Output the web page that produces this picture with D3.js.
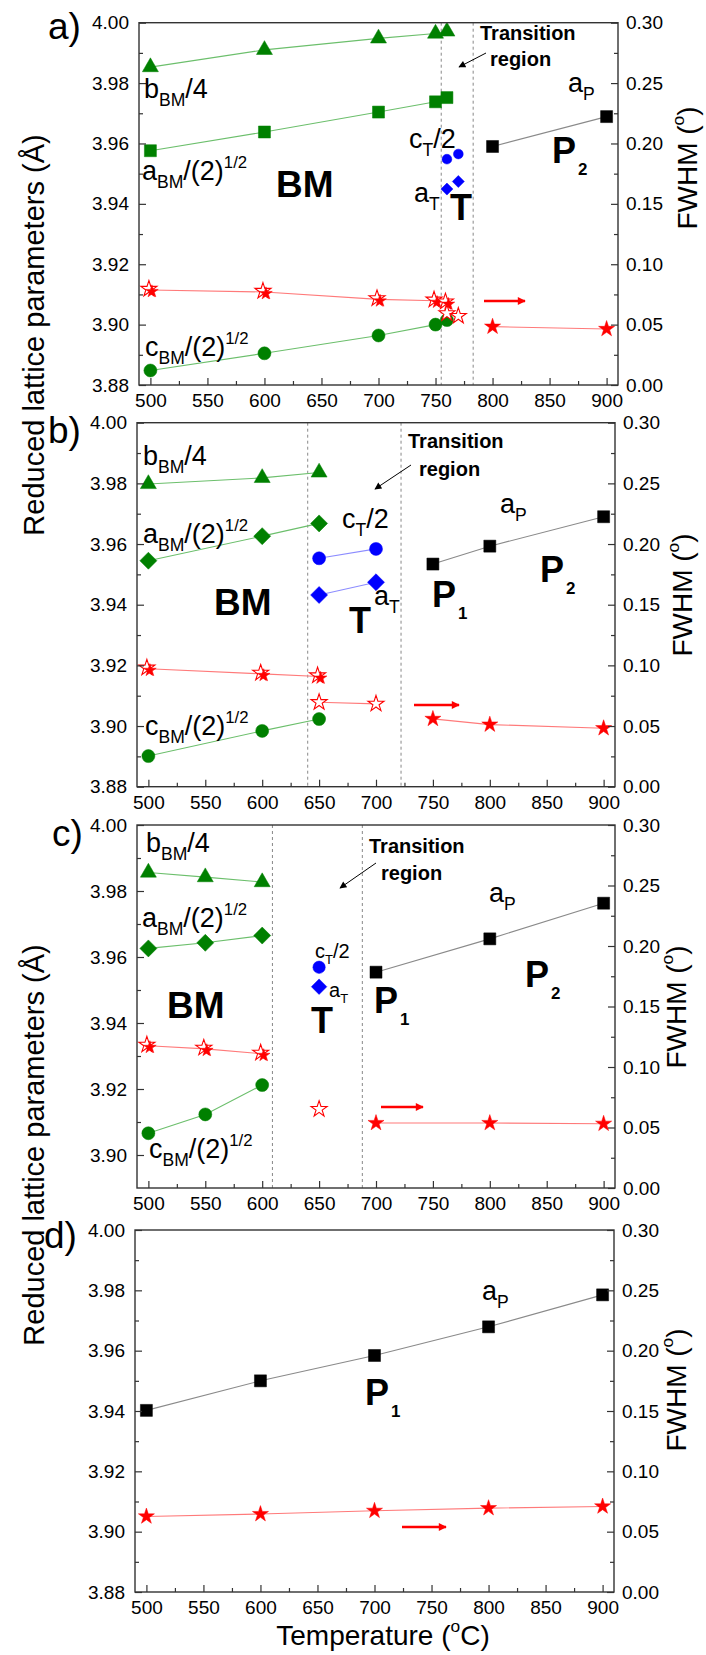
<!DOCTYPE html>
<html>
<head>
<meta charset="utf-8">
<script src="https://cdn.jsdelivr.net/npm/d3@7"></script>
<style>
  body { margin: 0; background: #fff; }
  svg text { font-family: "Liberation Sans", Arial, Helvetica, sans-serif; fill: #000; }
</style>
</head>
<body>
<svg id="fig" width="706" height="1655"></svg>
<script>
// ---------- tick values ----------
const tempTicksMajor = [500, 550, 600, 650, 700, 750, 800, 850, 900];
const tempTicksMinor = [525, 575, 625, 675, 725, 775, 825, 875];
const latticeTicksMajor = [3.88, 3.90, 3.92, 3.94, 3.96, 3.98, 4.00];
const latticeTicksMinor = [3.89, 3.91, 3.93, 3.95, 3.97, 3.99];
const fwhmTicksMajor = [0, 0.05, 0.10, 0.15, 0.20, 0.25, 0.30];
const fwhmTicksMinor = [0.025, 0.075, 0.125, 0.175, 0.225, 0.275];

// ---------- panel a data: [temperature (°C), value] ----------
const a_bBM4 = [[500, 3.9853], [600, 3.9910], [700, 3.9948], [750, 3.9964], [760, 3.9971]];
const a_aBM  = [[500, 3.9576], [600, 3.9638], [700, 3.9704], [750, 3.9738], [760, 3.9752]];
const a_cBM  = [[500, 3.8848], [600, 3.8905], [700, 3.8964], [750, 3.9000], [760, 3.9015]];
const a_cT2  = [[760, 3.9548], [770, 3.9565]];
const a_aT   = [[760, 3.9449], [770, 3.9474]];
const a_aP   = [[800, 3.9590], [900, 3.9689]];
const a_fwhmBM = [[500, 0.0787], [600, 0.0770], [700, 0.0709], [750, 0.0698], [760, 0.0682]];
const a_fwhmT  = [[760, 0.0593], [770, 0.0571]];
const a_fwhmP  = [[800, 0.0483], [900, 0.0464]];
const a_transition = [755, 783];

// ---------- panel b data ----------
const b_bBM4 = [[500, 3.9798], [600, 3.9818], [650, 3.9836]];
const b_aBM  = [[500, 3.9545], [600, 3.9626], [650, 3.9668]];
const b_cBM  = [[500, 3.8901], [600, 3.8984], [650, 3.9023]];
const b_cT2  = [[650, 3.9553], [700, 3.9584]];
const b_aT   = [[650, 3.9432], [700, 3.9474]];
const b_aP   = [[750, 3.9534], [800, 3.9593], [900, 3.9690]];
const b_fwhmBM = [[500, 0.0972], [600, 0.0930], [650, 0.0908]];
const b_fwhmT  = [[650, 0.0696], [700, 0.0683]];
const b_fwhmP  = [[750, 0.0559], [800, 0.0512], [900, 0.0482]];
const b_transition = [640, 722];

// ---------- panel c data ----------
const c_bBM4 = [[500, 3.9856], [550, 3.9842], [600, 3.9827]];
const c_aBM  = [[500, 3.9626], [550, 3.9643], [600, 3.9665]];
const c_cBM  = [[500, 3.9066], [550, 3.9123], [600, 3.9212]];
const c_cT2  = [[650, 3.9569]];
const c_aT   = [[650, 3.9510]];
const c_aP   = [[700, 3.9554], [800, 3.9655], [900, 3.9763]];
const c_fwhmBM = [[500, 0.1175], [550, 0.1150], [600, 0.1109]];
const c_fwhmT  = [[650, 0.0652]];
const c_fwhmP  = [[700, 0.0537], [800, 0.0537], [900, 0.0531]];
const c_transition = [609, 688];

// ---------- panel d data ----------
const d_aP     = [[500, 3.9402], [600, 3.9500], [700, 3.9584], [800, 3.9679], [900, 3.9785]];
const d_fwhmP  = [[500, 0.0626], [600, 0.0646], [700, 0.0673], [800, 0.0695], [900, 0.0709]];

// ---------- styling ----------
const GREEN = "#008000", GREEN_LINE = "#6cbf6c";
const BLUE = "#0000ff", BLUE_LINE = "#8c8cff";
const RED = "#ff0000", RED_LINE = "#ff7a7a";
const BLACK = "#000", GRAY_LINE = "#8a8a8a";
const AXIS = "#333";

const svg = d3.select("#fig");

// arrowheads
const defs = svg.append("defs");
defs.append("marker").attr("id", "redHead").attr("viewBox", "0 0 10 10")
  .attr("refX", 9).attr("refY", 5).attr("markerWidth", 4).attr("markerHeight", 3.2)
  .attr("markerUnits", "strokeWidth").attr("orient", "auto")
  .append("path").attr("d", "M0,0 L10,5 L0,10 z").attr("fill", RED);
defs.append("marker").attr("id", "blackHead").attr("viewBox", "0 0 10 10")
  .attr("refX", 9).attr("refY", 5).attr("markerWidth", 8).attr("markerHeight", 7)
  .attr("markerUnits", "strokeWidth").attr("orient", "auto")
  .append("path").attr("d", "M0,0 L10,5 L0,10 z").attr("fill", "#000");

// rich text with sub/superscripts
function rich(g, x, y, parts, size, opts = {}) {
  const t = g.append("text").attr("x", x).attr("y", y)
    .attr("font-size", size).attr("font-weight", opts.bold ? "bold" : "normal");
  if (opts.anchor) t.attr("text-anchor", opts.anchor);
  if (opts.transform) t.attr("transform", opts.transform);
  let cur = 0;
  parts.forEach(p => {
    let txt, off = 0, fs = size;
    if (typeof p === "string") { txt = p; }
    else if (p.sub !== undefined) { txt = p.sub; off = size * (opts.subShift || 0.3); fs = size * (opts.subScale || 0.65); }
    else { txt = p.sup; off = -size * 0.45; fs = size * 0.62; }
    t.append("tspan").attr("dy", off - cur).attr("font-size", fs)
      .attr("dx", p.dx || 0).text(txt);
    cur = off;
  });
  return t;
}

function starPath(size) { return d3.symbol(d3.symbolStar, size)(); }

function drawPanel(cfg) {
  const [x0, x1, y0, y1] = cfg.box;
  const g = svg.append("g");
  const x = d3.scaleLinear().domain([490, 910]).range([x0, x1]);
  const y = d3.scaleLinear().domain(cfg.yDom).range([y1, y0]);
  const y2 = d3.scaleLinear().domain([0, 0.30]).range([y1, y0]);

  // transition region boundaries
  (cfg.transition || []).forEach(t => {
    g.append("line").attr("x1", x(t)).attr("x2", x(t)).attr("y1", y0).attr("y2", y1)
      .attr("stroke", "#888").attr("stroke-width", 1).attr("stroke-dasharray", "3,3");
  });

  const line = d3.line().x(d => x(d[0])).y(d => y(d[1]));
  const line2 = d3.line().x(d => x(d[0])).y(d => y2(d[1]));

  function series(data, color, lineColor, sym, size, opts = {}) {
    const sc = opts.right ? y2 : y;
    if (lineColor && data.length > 1) {
      g.append("path").attr("d", (opts.right ? line2 : line)(data))
        .attr("fill", "none").attr("stroke", lineColor).attr("stroke-width", 1.1);
    }
    g.selectAll(null).data(data).enter().append("path")
      .attr("d", d3.symbol(sym, size)())
      .attr("transform", d => `translate(${x(d[0])},${sc(d[1])})${opts.rot ? " rotate(45)" : ""}`)
      .attr("fill", opts.open ? "#fff" : color)
      .attr("stroke", color).attr("stroke-width", opts.open ? 1.1 : 0.5);
  }
  // overlapping open + filled stars (BM phase)
  function doubleStars(data, lineColor) {
    g.append("path").attr("d", line2(data)).attr("fill", "none")
      .attr("stroke", lineColor).attr("stroke-width", 1.1);
    const gs = g.selectAll(null).data(data).enter().append("g")
      .attr("transform", d => `translate(${x(d[0])},${y2(d[1])})`);
    gs.append("path").attr("d", starPath(80)).attr("transform", "translate(-1.5,-1)")
      .attr("fill", "#fff").attr("stroke", RED).attr("stroke-width", 1.1);
    gs.append("path").attr("d", starPath(50)).attr("transform", "translate(1.5,1.5)")
      .attr("fill", RED).attr("stroke", RED).attr("stroke-width", 0.5);
  }

  cfg.draw({ series, doubleStars, g, x, y, y2 });

  // frame + axes
  g.append("rect").attr("x", x0).attr("y", y0).attr("width", x1 - x0).attr("height", y1 - y0)
    .attr("fill", "none").attr("stroke", AXIS).attr("stroke-width", 1.4);

  const styleAxis = sel => {
    sel.select(".domain").remove();
    sel.selectAll("line").attr("stroke", AXIS).attr("stroke-width", 1.2);
    sel.selectAll("text").attr("font-size", 19).attr("font-family", null).attr("fill", "#000");
  };
  g.append("g").attr("transform", `translate(0,${y1})`)
    .call(d3.axisBottom(x).tickValues(tempTicksMajor).tickSize(-7).tickPadding(9).tickFormat(d3.format("d")))
    .call(styleAxis);
  g.append("g").attr("transform", `translate(0,${y1})`)
    .call(d3.axisBottom(x).tickValues(tempTicksMinor).tickSize(-4).tickFormat(""))
    .call(styleAxis);

  const lMajor = latticeTicksMajor.filter(v => v >= cfg.yDom[0] - 1e-9);
  const lMinor = latticeTicksMinor.filter(v => v > cfg.yDom[0] + 1e-9);
  g.append("g").attr("transform", `translate(${x0},0)`)
    .call(d3.axisLeft(y).tickValues(lMajor).tickSize(-7).tickPadding(10).tickFormat(d3.format(".2f")))
    .call(styleAxis);
  g.append("g").attr("transform", `translate(${x0},0)`)
    .call(d3.axisLeft(y).tickValues(lMinor).tickSize(-4).tickFormat(""))
    .call(styleAxis);

  g.append("g").attr("transform", `translate(${x1},0)`)
    .call(d3.axisRight(y2).tickValues(fwhmTicksMajor).tickSize(-7).tickPadding(8).tickFormat(d3.format(".2f")))
    .call(styleAxis);
  g.append("g").attr("transform", `translate(${x1},0)`)
    .call(d3.axisRight(y2).tickValues(fwhmTicksMinor).tickSize(-4).tickFormat(""))
    .call(styleAxis);

  // panel letter
  g.append("text").attr("x", cfg.letterPos[0]).attr("y", cfg.letterPos[1])
    .attr("font-size", 37).text(cfg.letter);

  // FWHM title
  rich(g, 0, 0, ["FWHM (", { sup: "o" }, ")"], 28,
    { anchor: "middle", transform: `translate(${cfg.fwhmPos[0]},${cfg.fwhmPos[1]}) rotate(-90)` });

  // annotations
  (cfg.labels || []).forEach(l => rich(g, l.x, l.y, l.parts, l.size, l));
  (cfg.redArrows || []).forEach(a => {
    g.append("line").attr("x1", a[0]).attr("x2", a[1]).attr("y1", a[2]).attr("y2", a[2])
      .attr("stroke", RED).attr("stroke-width", 2.5).attr("marker-end", "url(#redHead)");
  });
  if (cfg.transitionText) {
    const t = cfg.transitionText;
    g.append("text").attr("x", t.tx).attr("y", t.ty).attr("font-size", 20).attr("font-weight", "bold").text("Transition");
    g.append("text").attr("x", t.rx).attr("y", t.ry).attr("font-size", 20).attr("font-weight", "bold").text("region");
    g.append("line").attr("x1", t.arrow[0]).attr("y1", t.arrow[1]).attr("x2", t.arrow[2]).attr("y2", t.arrow[3])
      .attr("stroke", "#000").attr("stroke-width", 1).attr("marker-end", "url(#blackHead)");
  }
}

const tri = d3.symbolTriangle, sq = d3.symbolSquare, circ = d3.symbolCircle, star = d3.symbolStar;
const lbl = (x, y, parts, size, extra = {}) => Object.assign({ x, y, parts, size }, extra);
const aBMparts = ["a", { sub: "BM" }, "/(2)", { sup: "1/2" }];
const cBMparts = ["c", { sub: "BM" }, "/(2)", { sup: "1/2" }];
const bBMparts = ["b", { sub: "BM" }, "/4"];

// ---------- panel a ----------
drawPanel({
  letter: "a)", letterPos: [48, 39], box: [139, 618, 22.7, 385], yDom: [3.88, 4.00],
  transition: a_transition, fwhmPos: [697, 168],
  draw: ({ series, doubleStars }) => {
    series(a_bBM4, GREEN, GREEN_LINE, tri, 111);
    series(a_aBM, GREEN, GREEN_LINE, sq, 144);
    series(a_cBM, GREEN, GREEN_LINE, circ, 133);
    series(a_cT2, BLUE, null, circ, 75);
    series(a_aT, BLUE, null, sq, 72, { rot: true });
    series(a_aP, BLACK, GRAY_LINE, sq, 144);
    doubleStars(a_fwhmBM, RED_LINE);
    series(a_fwhmT, RED, null, star, 80, { right: true, open: true });
    series(a_fwhmP, RED, RED_LINE, star, 80, { right: true });
  },
  labels: [
    lbl(144, 98, bBMparts, 27), lbl(142, 180, aBMparts, 27), lbl(145, 356, cBMparts, 27),
    lbl(276, 197, ["BM"], 37, { bold: true }),
    lbl(409, 148, ["c", { sub: "T" }, "/2"], 27), lbl(414, 202, ["a", { sub: "T" }], 27),
    lbl(450, 220, ["T"], 36, { bold: true }),
    lbl(568, 92, ["a", { sub: "P" }], 27),
    lbl(552, 163, ["P", { sub: "2", dx: 2 }], 36, { bold: true, subShift: 0.33, subScale: 0.47 })
  ],
  redArrows: [[484, 525, 301]],
  transitionText: { tx: 480, ty: 40, rx: 490, ry: 66, arrow: [486, 53, 459, 67] }
});

// ---------- panel b ----------
drawPanel({
  letter: "b)", letterPos: [48, 443], box: [137, 615, 422.7, 786.7], yDom: [3.88, 4.00],
  transition: b_transition, fwhmPos: [692, 595],
  draw: ({ series, doubleStars }) => {
    series(b_bBM4, GREEN, GREEN_LINE, tri, 111);
    series(b_aBM, GREEN, GREEN_LINE, sq, 144, { rot: true });
    series(b_cBM, GREEN, GREEN_LINE, circ, 133);
    series(b_cT2, BLUE, BLUE_LINE, circ, 133);
    series(b_aT, BLUE, BLUE_LINE, sq, 144, { rot: true });
    series(b_aP, BLACK, GRAY_LINE, sq, 144);
    doubleStars(b_fwhmBM, RED_LINE);
    series(b_fwhmT, RED, RED_LINE, star, 80, { right: true, open: true });
    series(b_fwhmP, RED, RED_LINE, star, 80, { right: true });
  },
  labels: [
    lbl(143, 465, bBMparts, 27), lbl(143, 543, aBMparts, 27), lbl(145, 735, cBMparts, 27),
    lbl(214, 615, ["BM"], 37, { bold: true }),
    lbl(342, 528, ["c", { sub: "T" }, "/2"], 27),
    lbl(349, 633, ["T"], 36, { bold: true }),
    lbl(374, 605, ["a", { sub: "T" }], 27),
    lbl(432, 607, ["P", { sub: "1", dx: 2 }], 36, { bold: true, subShift: 0.33, subScale: 0.47 }),
    lbl(500, 513, ["a", { sub: "P" }], 27),
    lbl(540, 582, ["P", { sub: "2", dx: 2 }], 36, { bold: true, subShift: 0.33, subScale: 0.47 })
  ],
  redArrows: [[414, 459, 705]],
  transitionText: { tx: 408, ty: 448, rx: 419, ry: 476, arrow: [411, 465, 375, 489] }
});

// ---------- panel c ----------
drawPanel({
  letter: "c)", letterPos: [52, 846], box: [137, 615, 825, 1188], yDom: [3.89, 4.00],
  transition: c_transition, fwhmPos: [686, 1007],
  draw: ({ series, doubleStars }) => {
    series(c_bBM4, GREEN, GREEN_LINE, tri, 111);
    series(c_aBM, GREEN, GREEN_LINE, sq, 144, { rot: true });
    series(c_cBM, GREEN, GREEN_LINE, circ, 133);
    series(c_cT2, BLUE, null, circ, 120);
    series(c_aT, BLUE, null, sq, 120, { rot: true });
    series(c_aP, BLACK, GRAY_LINE, sq, 144);
    doubleStars(c_fwhmBM, RED_LINE);
    series(c_fwhmT, RED, null, star, 80, { right: true, open: true });
    series(c_fwhmP, RED, RED_LINE, star, 80, { right: true });
  },
  labels: [
    lbl(146, 852, bBMparts, 27), lbl(142, 927, aBMparts, 27), lbl(149, 1158, cBMparts, 27),
    lbl(167, 1018, ["BM"], 37, { bold: true }),
    lbl(315, 958, ["c", { sub: "T" }, "/2"], 20), lbl(329, 997, ["a", { sub: "T" }], 20),
    lbl(311, 1033, ["T"], 36, { bold: true }),
    lbl(374, 1013, ["P", { sub: "1", dx: 2 }], 36, { bold: true, subShift: 0.33, subScale: 0.47 }),
    lbl(489, 902, ["a", { sub: "P" }], 27),
    lbl(525, 987, ["P", { sub: "2", dx: 2 }], 36, { bold: true, subShift: 0.33, subScale: 0.47 })
  ],
  redArrows: [[381, 423, 1107]],
  transitionText: { tx: 369, ty: 853, rx: 381, ry: 880, arrow: [376, 863, 340, 888] }
});

// ---------- panel d ----------
drawPanel({
  letter: "d)", letterPos: [44, 1248], box: [135, 614, 1230, 1592], yDom: [3.88, 4.00],
  transition: [], fwhmPos: [686, 1390],
  draw: ({ series }) => {
    series(d_aP, BLACK, GRAY_LINE, sq, 144);
    series(d_fwhmP, RED, RED_LINE, star, 80, { right: true });
  },
  labels: [
    lbl(482, 1300, ["a", { sub: "P" }], 27),
    lbl(365, 1405, ["P", { sub: "1", dx: 2 }], 36, { bold: true, subShift: 0.33, subScale: 0.47 })
  ],
  redArrows: [[402, 446, 1527]]
});

// ---------- shared axis titles ----------
const yTitle = "Reduced lattice parameters (\u00C5)";
svg.append("text").attr("transform", "translate(44,335) rotate(-90)")
  .attr("text-anchor", "middle").attr("font-size", 29).text(yTitle);
svg.append("text").attr("transform", "translate(44,1145) rotate(-90)")
  .attr("text-anchor", "middle").attr("font-size", 29).text(yTitle);
rich(svg, 383, 1645, ["Temperature (", { sup: "o" }, "C)"], 28, { anchor: "middle" });
</script>
</body>
</html>
